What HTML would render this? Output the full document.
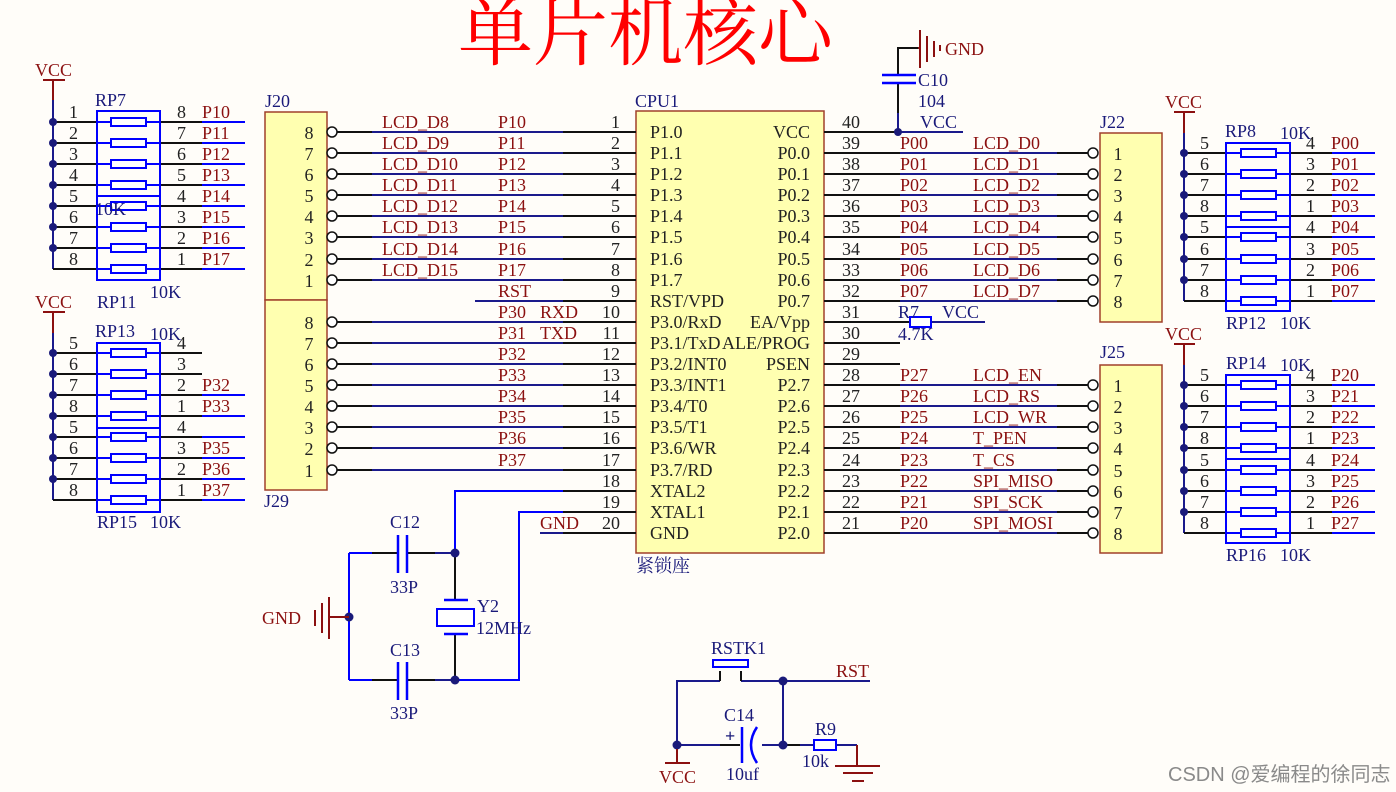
<!DOCTYPE html>
<html><head><meta charset="utf-8"><style>
html,body{margin:0;padding:0;background:#fffdf9;}
svg{display:block;}
text{font-family:"Liberation Serif","Noto Serif CJK SC",serif;font-size:18px;}
.r{fill:#8b1010}.b{fill:#1a1a7a}.k{fill:#222}
.bw{stroke:#0000ff;stroke-width:2;fill:none}
.nw{stroke:#1a1a8c;stroke-width:2;fill:none}
.kw{stroke:#111;stroke-width:2;fill:none}
.brw{stroke:#8b1010;stroke-width:2;fill:none}
.box{fill:#ffffb0;stroke:#a0402a;stroke-width:1.5}
.pin{fill:#fff;stroke:#111;stroke-width:1.5}
.rs{fill:#fff;stroke:#0000ff;stroke-width:2}
</style></head><body>
<svg width="1396" height="792" viewBox="0 0 1396 792" xmlns="http://www.w3.org/2000/svg">
<rect width="1396" height="792" fill="#fffdf9"/>
<text x="458" y="59" style="font-family:'Noto Serif CJK SC',serif;font-size:75px;fill:#ff0000">单片机核心</text>

<!-- CPU -->
<text x="635" y="107" class="b">CPU1</text>
<rect x="636" y="111" width="188" height="442" class="box"/>
<text x="636" y="572" class="b">紧锁座</text>
<g class="k">
<text x="650" y="138">P1.0</text><text x="650" y="159">P1.1</text><text x="650" y="180">P1.2</text><text x="650" y="201">P1.3</text>
<text x="650" y="222">P1.4</text><text x="650" y="243">P1.5</text><text x="650" y="265">P1.6</text><text x="650" y="286">P1.7</text>
<text x="650" y="307">RST/VPD</text><text x="650" y="328">P3.0/RxD</text><text x="650" y="349">P3.1/TxD</text><text x="650" y="370">P3.2/INT0</text>
<text x="650" y="391">P3.3/INT1</text><text x="650" y="412">P3.4/T0</text><text x="650" y="433">P3.5/T1</text><text x="650" y="454">P3.6/WR</text>
<text x="650" y="476">P3.7/RD</text><text x="650" y="497">XTAL2</text><text x="650" y="518">XTAL1</text><text x="650" y="539">GND</text>
</g>
<g class="k" text-anchor="end">
<text x="810" y="138">VCC</text><text x="810" y="159">P0.0</text><text x="810" y="180">P0.1</text><text x="810" y="201">P0.2</text>
<text x="810" y="222">P0.3</text><text x="810" y="243">P0.4</text><text x="810" y="265">P0.5</text><text x="810" y="286">P0.6</text>
<text x="810" y="307">P0.7</text><text x="810" y="328">EA/Vpp</text><text x="810" y="349">ALE/PROG</text><text x="810" y="370">PSEN</text>
<text x="810" y="391">P2.7</text><text x="810" y="412">P2.6</text><text x="810" y="433">P2.5</text><text x="810" y="454">P2.4</text>
<text x="810" y="476">P2.3</text><text x="810" y="497">P2.2</text><text x="810" y="518">P2.1</text><text x="810" y="539">P2.0</text>
</g>
<g class="k" text-anchor="end">
<text x="620" y="128">1</text><text x="620" y="149">2</text><text x="620" y="170">3</text><text x="620" y="191">4</text>
<text x="620" y="212">5</text><text x="620" y="233">6</text><text x="620" y="255">7</text><text x="620" y="276">8</text>
<text x="620" y="297">9</text><text x="620" y="318">10</text><text x="620" y="339">11</text><text x="620" y="360">12</text>
<text x="620" y="381">13</text><text x="620" y="402">14</text><text x="620" y="423">15</text><text x="620" y="444">16</text>
<text x="620" y="466">17</text><text x="620" y="487">18</text><text x="620" y="508">19</text><text x="620" y="529">20</text>
</g>
<g class="k">
<text x="842" y="128">40</text><text x="842" y="149">39</text><text x="842" y="170">38</text><text x="842" y="191">37</text>
<text x="842" y="212">36</text><text x="842" y="233">35</text><text x="842" y="255">34</text><text x="842" y="276">33</text>
<text x="842" y="297">32</text><text x="842" y="318">31</text><text x="842" y="339">30</text><text x="842" y="360">29</text>
<text x="842" y="381">28</text><text x="842" y="402">27</text><text x="842" y="423">26</text><text x="842" y="444">25</text>
<text x="842" y="466">24</text><text x="842" y="487">23</text><text x="842" y="508">22</text><text x="842" y="529">21</text>
</g>

<g>
<path class="kw" d="M337 132H372M563 132H636M337 153H372M563 153H636M337 174H372M563 174H636M337 195H372M563 195H636M337 216H372M563 216H636M337 237H372M563 237H636M337 259H372M563 259H636M337 280H372M563 280H636M563 301H636
M337 322H372M563 322H636M337 343H372M563 343H636M337 364H372M563 364H636M337 385H372M563 385H636M337 406H372M563 406H636M337 427H372M563 427H636M337 448H372M563 448H636M337 470H372M563 470H636M563 491H636M563 512H636M563 533H636"/>
<path class="nw" d="M372 132H563M372 153H563M372 174H563M372 195H563M372 216H563M372 237H563M372 259H563M372 280H563M475 301H563M372 322H563M372 343H563M372 364H563M372 385H563M372 406H563M372 427H563M372 448H563M372 470H563M540 533H563"/>
</g>
<g class="r">
<text x="382" y="128">LCD_D8</text><text x="382" y="149">LCD_D9</text><text x="382" y="170">LCD_D10</text><text x="382" y="191">LCD_D11</text>
<text x="382" y="212">LCD_D12</text><text x="382" y="233">LCD_D13</text><text x="382" y="255">LCD_D14</text><text x="382" y="276">LCD_D15</text>
<text x="498" y="128">P10</text><text x="498" y="149">P11</text><text x="498" y="170">P12</text><text x="498" y="191">P13</text>
<text x="498" y="212">P14</text><text x="498" y="233">P15</text><text x="498" y="255">P16</text><text x="498" y="276">P17</text>
<text x="498" y="297">RST</text><text x="498" y="318">P30</text><text x="540" y="318">RXD</text><text x="498" y="339">P31</text><text x="540" y="339">TXD</text>
<text x="498" y="360">P32</text><text x="498" y="381">P33</text><text x="498" y="402">P34</text><text x="498" y="423">P35</text>
<text x="498" y="444">P36</text><text x="498" y="466">P37</text><text x="540" y="529">GND</text>
</g>
<text x="265" y="107" class="b">J20</text>
<rect x="265" y="112" width="62" height="188" class="box"/>
<rect x="265" y="300" width="62" height="190" class="box"/>
<text x="264" y="507" class="b">J29</text>
<g class="k" text-anchor="middle">
<text x="309" y="139">8</text><text x="309" y="160">7</text><text x="309" y="181">6</text><text x="309" y="202">5</text>
<text x="309" y="223">4</text><text x="309" y="244">3</text><text x="309" y="266">2</text><text x="309" y="287">1</text>
<text x="309" y="329">8</text><text x="309" y="350">7</text><text x="309" y="371">6</text><text x="309" y="392">5</text>
<text x="309" y="413">4</text><text x="309" y="434">3</text><text x="309" y="455">2</text><text x="309" y="477">1</text>
</g>
<g class="pin">
<circle cx="332" cy="132" r="5"/><circle cx="332" cy="153" r="5"/><circle cx="332" cy="174" r="5"/><circle cx="332" cy="195" r="5"/>
<circle cx="332" cy="216" r="5"/><circle cx="332" cy="237" r="5"/><circle cx="332" cy="259" r="5"/><circle cx="332" cy="280" r="5"/>
<circle cx="332" cy="322" r="5"/><circle cx="332" cy="343" r="5"/><circle cx="332" cy="364" r="5"/><circle cx="332" cy="385" r="5"/>
<circle cx="332" cy="406" r="5"/><circle cx="332" cy="427" r="5"/><circle cx="332" cy="448" r="5"/><circle cx="332" cy="470" r="5"/>
</g>

<path class="kw" d="M824 132H898M824 153H900M1057 153H1088M824 174H900M1057 174H1088M824 195H900M1057 195H1088M824 216H900M1057 216H1088M824 237H900M1057 237H1088M824 259H900M1057 259H1088M824 280H900M1057 280H1088M824 301H900M1057 301H1088
M824 322H910M824 343H900M824 364H900
M824 385H900M1057 385H1088M824 406H900M1057 406H1088M824 427H900M1057 427H1088M824 448H900M1057 448H1088M824 470H900M1057 470H1088M824 491H900M1057 491H1088M824 512H900M1057 512H1088M824 533H900M1057 533H1088"/>
<path class="nw" d="M898 132H963M900 153H1057M900 174H1057M900 195H1057M900 216H1057M900 237H1057M900 259H1057M900 280H1057M900 301H1057M931 322H985
M900 385H1057M900 406H1057M900 427H1057M900 448H1057M900 470H1057M900 491H1057M900 512H1057M900 533H1057"/>
<rect x="910" y="317" width="21" height="10" fill="#fff" stroke="#0000ff" stroke-width="2"/>
<g class="r">
<text x="900" y="149">P00</text><text x="900" y="170">P01</text><text x="900" y="191">P02</text><text x="900" y="212">P03</text>
<text x="900" y="233">P04</text><text x="900" y="255">P05</text><text x="900" y="276">P06</text><text x="900" y="297">P07</text>
<text x="973" y="149">LCD_D0</text><text x="973" y="170">LCD_D1</text><text x="973" y="191">LCD_D2</text><text x="973" y="212">LCD_D3</text>
<text x="973" y="233">LCD_D4</text><text x="973" y="255">LCD_D5</text><text x="973" y="276">LCD_D6</text><text x="973" y="297">LCD_D7</text>
<text x="900" y="381">P27</text><text x="900" y="402">P26</text><text x="900" y="423">P25</text><text x="900" y="444">P24</text>
<text x="900" y="466">P23</text><text x="900" y="487">P22</text><text x="900" y="508">P21</text><text x="900" y="529">P20</text>
<text x="973" y="381">LCD_EN</text><text x="973" y="402">LCD_RS</text><text x="973" y="423">LCD_WR</text><text x="973" y="444">T_PEN</text>
<text x="973" y="466">T_CS</text><text x="973" y="487">SPI_MISO</text><text x="973" y="508">SPI_SCK</text><text x="973" y="529">SPI_MOSI</text>
</g>
<g class="b"><text x="920" y="128">VCC</text><text x="898" y="318">R7</text><text x="942" y="318">VCC</text><text x="898" y="340">4.7K</text></g>
<path class="nw" d="M898 132V113"/>
<path class="kw" d="M898 113V83M898 75V48H918"/>
<path d="M882 75H916M882 83H916" stroke="#0000ff" stroke-width="2.5"/>
<circle cx="898" cy="132" r="4" fill="#1a1a7a"/>
<path class="brw" d="M918 48H920M920 30V68M927 36V62M934 41V57M940 45V51" stroke-width="2.5"/>
<text x="945" y="55" class="r">GND</text>
<text x="918" y="86" class="b">C10</text><text x="918" y="107" class="b">104</text>

<text x="1100" y="128" class="b">J22</text>
<rect x="1100" y="133" width="62" height="189" class="box"/>
<text x="1100" y="358" class="b">J25</text>
<rect x="1100" y="365" width="62" height="188" class="box"/>
<g class="k" text-anchor="middle">
<text x="1118" y="160">1</text><text x="1118" y="181">2</text><text x="1118" y="202">3</text><text x="1118" y="223">4</text>
<text x="1118" y="244">5</text><text x="1118" y="266">6</text><text x="1118" y="287">7</text><text x="1118" y="308">8</text>
<text x="1118" y="392">1</text><text x="1118" y="413">2</text><text x="1118" y="434">3</text><text x="1118" y="455">4</text>
<text x="1118" y="477">5</text><text x="1118" y="498">6</text><text x="1118" y="519">7</text><text x="1118" y="540">8</text>
</g>
<g class="pin">
<circle cx="1093" cy="153" r="5"/><circle cx="1093" cy="174" r="5"/><circle cx="1093" cy="195" r="5"/><circle cx="1093" cy="216" r="5"/>
<circle cx="1093" cy="237" r="5"/><circle cx="1093" cy="259" r="5"/><circle cx="1093" cy="280" r="5"/><circle cx="1093" cy="301" r="5"/>
<circle cx="1093" cy="385" r="5"/><circle cx="1093" cy="406" r="5"/><circle cx="1093" cy="427" r="5"/><circle cx="1093" cy="448" r="5"/>
<circle cx="1093" cy="470" r="5"/><circle cx="1093" cy="491" r="5"/><circle cx="1093" cy="512" r="5"/><circle cx="1093" cy="533" r="5"/>
</g>

<text x="35" y="76" class="r">VCC</text>
<path class="brw" d="M43 80H65M53 80V100"/>
<path class="nw" d="M53 100V269"/>
<path class="kw" d="M53 122H97M160 122H202M53 143H97M160 143H202M53 164H97M160 164H202M53 185H97M160 185H202M53 206H97M160 206H202M53 227H97M160 227H202M53 248H97M160 248H202M53 269H97M160 269H202"/>
<path class="bw" d="M202 122H245M202 143H245M202 164H245M202 185H245M202 206H245M202 227H245M202 248H245M202 269H245M97 122H160M97 143H160M97 164H160M97 185H160M97 206H160M97 227H160M97 248H160M97 269H160"/>
<rect x="97" y="111" width="63" height="85" class="bw"/><rect x="97" y="196" width="63" height="84" class="bw"/>
<g class="rs"><rect x="111" y="118" width="35" height="8"/><rect x="111" y="139" width="35" height="8"/><rect x="111" y="160" width="35" height="8"/><rect x="111" y="181" width="35" height="8"/><rect x="111" y="202" width="35" height="8"/><rect x="111" y="223" width="35" height="8"/><rect x="111" y="244" width="35" height="8"/><rect x="111" y="265" width="35" height="8"/></g>
<g fill="#1a1a7a"><circle cx="53" cy="122" r="4"/><circle cx="53" cy="143" r="4"/><circle cx="53" cy="164" r="4"/><circle cx="53" cy="185" r="4"/><circle cx="53" cy="206" r="4"/><circle cx="53" cy="227" r="4"/><circle cx="53" cy="248" r="4"/></g>
<g class="k"><text x="69" y="118">1</text><text x="69" y="139">2</text><text x="69" y="160">3</text><text x="69" y="181">4</text><text x="69" y="202">5</text><text x="69" y="223">6</text><text x="69" y="244">7</text><text x="69" y="265">8</text>
<text x="177" y="118">8</text><text x="177" y="139">7</text><text x="177" y="160">6</text><text x="177" y="181">5</text><text x="177" y="202">4</text><text x="177" y="223">3</text><text x="177" y="244">2</text><text x="177" y="265">1</text></g>
<g class="r"><text x="202" y="118">P10</text><text x="202" y="139">P11</text><text x="202" y="160">P12</text><text x="202" y="181">P13</text><text x="202" y="202">P14</text><text x="202" y="223">P15</text><text x="202" y="244">P16</text><text x="202" y="265">P17</text></g>
<g class="b"><text x="95" y="106">RP7</text><text x="95" y="215">10K</text><text x="150" y="298">10K</text><text x="97" y="308">RP11</text></g>

<text x="35" y="308" class="r">VCC</text>
<path class="brw" d="M43 312H65M53 312V333"/>
<path class="nw" d="M53 333V500"/>
<path class="kw" d="M53 353H97M160 353H202M53 374H97M160 374H202M53 395H97M160 395H202M53 416H97M160 416H202M53 437H97M160 437H202M53 458H97M160 458H202M53 479H97M160 479H202M53 500H97M160 500H202"/>
<path class="bw" d="M202 395H245M202 416H245M202 437H245M202 458H245M202 479H245M202 500H245M97 353H160M97 374H160M97 395H160M97 416H160M97 437H160M97 458H160M97 479H160M97 500H160"/>
<rect x="97" y="343" width="63" height="85" class="bw"/><rect x="97" y="428" width="63" height="84" class="bw"/>
<g class="rs"><rect x="111" y="349" width="35" height="8"/><rect x="111" y="370" width="35" height="8"/><rect x="111" y="391" width="35" height="8"/><rect x="111" y="412" width="35" height="8"/><rect x="111" y="433" width="35" height="8"/><rect x="111" y="454" width="35" height="8"/><rect x="111" y="475" width="35" height="8"/><rect x="111" y="496" width="35" height="8"/></g>
<g fill="#1a1a7a"><circle cx="53" cy="353" r="4"/><circle cx="53" cy="374" r="4"/><circle cx="53" cy="395" r="4"/><circle cx="53" cy="416" r="4"/><circle cx="53" cy="437" r="4"/><circle cx="53" cy="458" r="4"/><circle cx="53" cy="479" r="4"/></g>
<g class="k"><text x="69" y="349">5</text><text x="69" y="370">6</text><text x="69" y="391">7</text><text x="69" y="412">8</text><text x="69" y="433">5</text><text x="69" y="454">6</text><text x="69" y="475">7</text><text x="69" y="496">8</text>
<text x="177" y="349">4</text><text x="177" y="370">3</text><text x="177" y="391">2</text><text x="177" y="412">1</text><text x="177" y="433">4</text><text x="177" y="454">3</text><text x="177" y="475">2</text><text x="177" y="496">1</text></g>
<g class="r"><text x="202" y="391">P32</text><text x="202" y="412">P33</text><text x="202" y="454">P35</text><text x="202" y="475">P36</text><text x="202" y="496">P37</text></g>
<g class="b"><text x="95" y="337">RP13</text><text x="150" y="340">10K</text><text x="97" y="528">RP15</text><text x="150" y="528">10K</text></g>

<text x="1165" y="108" class="r">VCC</text>
<path class="brw" d="M1174 112H1195M1184 112V133"/>
<path class="nw" d="M1184 133V301"/>
<path class="kw" d="M1184 153H1226M1290 153H1332M1184 174H1226M1290 174H1332M1184 195H1226M1290 195H1332M1184 216H1226M1290 216H1332M1184 237H1226M1290 237H1332M1184 259H1226M1290 259H1332M1184 280H1226M1290 280H1332M1184 301H1226M1290 301H1332"/>
<path class="bw" d="M1332 153H1375M1332 174H1375M1332 195H1375M1332 216H1375M1332 237H1375M1332 259H1375M1332 280H1375M1332 301H1375M1226 153H1290M1226 174H1290M1226 195H1290M1226 216H1290M1226 237H1290M1226 259H1290M1226 280H1290M1226 301H1290"/>
<rect x="1226" y="143" width="64" height="84" class="bw"/><rect x="1226" y="227" width="64" height="84" class="bw"/>
<g class="rs"><rect x="1241" y="149" width="35" height="8"/><rect x="1241" y="170" width="35" height="8"/><rect x="1241" y="191" width="35" height="8"/><rect x="1241" y="212" width="35" height="8"/><rect x="1241" y="233" width="35" height="8"/><rect x="1241" y="255" width="35" height="8"/><rect x="1241" y="276" width="35" height="8"/><rect x="1241" y="297" width="35" height="8"/></g>
<g fill="#1a1a7a"><circle cx="1184" cy="153" r="4"/><circle cx="1184" cy="174" r="4"/><circle cx="1184" cy="195" r="4"/><circle cx="1184" cy="216" r="4"/><circle cx="1184" cy="237" r="4"/><circle cx="1184" cy="259" r="4"/><circle cx="1184" cy="280" r="4"/></g>
<g class="k"><text x="1200" y="149">5</text><text x="1200" y="170">6</text><text x="1200" y="191">7</text><text x="1200" y="212">8</text><text x="1200" y="233">5</text><text x="1200" y="255">6</text><text x="1200" y="276">7</text><text x="1200" y="297">8</text>
<text x="1306" y="149">4</text><text x="1306" y="170">3</text><text x="1306" y="191">2</text><text x="1306" y="212">1</text><text x="1306" y="233">4</text><text x="1306" y="255">3</text><text x="1306" y="276">2</text><text x="1306" y="297">1</text></g>
<g class="r"><text x="1331" y="149">P00</text><text x="1331" y="170">P01</text><text x="1331" y="191">P02</text><text x="1331" y="212">P03</text><text x="1331" y="233">P04</text><text x="1331" y="255">P05</text><text x="1331" y="276">P06</text><text x="1331" y="297">P07</text></g>
<g class="b"><text x="1225" y="137">RP8</text><text x="1280" y="139">10K</text><text x="1226" y="329">RP12</text><text x="1280" y="329">10K</text></g>

<text x="1165" y="340" class="r">VCC</text>
<path class="brw" d="M1174 344H1195M1184 344V365"/>
<path class="nw" d="M1184 365V533"/>
<path class="kw" d="M1184 385H1226M1290 385H1332M1184 406H1226M1290 406H1332M1184 427H1226M1290 427H1332M1184 448H1226M1290 448H1332M1184 470H1226M1290 470H1332M1184 491H1226M1290 491H1332M1184 512H1226M1290 512H1332M1184 533H1226M1290 533H1332"/>
<path class="bw" d="M1332 385H1375M1332 406H1375M1332 427H1375M1332 448H1375M1332 470H1375M1332 491H1375M1332 512H1375M1332 533H1375M1226 385H1290M1226 406H1290M1226 427H1290M1226 448H1290M1226 470H1290M1226 491H1290M1226 512H1290M1226 533H1290"/>
<rect x="1226" y="375" width="64" height="84" class="bw"/><rect x="1226" y="459" width="64" height="84" class="bw"/>
<g class="rs"><rect x="1241" y="381" width="35" height="8"/><rect x="1241" y="402" width="35" height="8"/><rect x="1241" y="423" width="35" height="8"/><rect x="1241" y="444" width="35" height="8"/><rect x="1241" y="466" width="35" height="8"/><rect x="1241" y="487" width="35" height="8"/><rect x="1241" y="508" width="35" height="8"/><rect x="1241" y="529" width="35" height="8"/></g>
<g fill="#1a1a7a"><circle cx="1184" cy="385" r="4"/><circle cx="1184" cy="406" r="4"/><circle cx="1184" cy="427" r="4"/><circle cx="1184" cy="448" r="4"/><circle cx="1184" cy="470" r="4"/><circle cx="1184" cy="491" r="4"/><circle cx="1184" cy="512" r="4"/></g>
<g class="k"><text x="1200" y="381">5</text><text x="1200" y="402">6</text><text x="1200" y="423">7</text><text x="1200" y="444">8</text><text x="1200" y="466">5</text><text x="1200" y="487">6</text><text x="1200" y="508">7</text><text x="1200" y="529">8</text>
<text x="1306" y="381">4</text><text x="1306" y="402">3</text><text x="1306" y="423">2</text><text x="1306" y="444">1</text><text x="1306" y="466">4</text><text x="1306" y="487">3</text><text x="1306" y="508">2</text><text x="1306" y="529">1</text></g>
<g class="r"><text x="1331" y="381">P20</text><text x="1331" y="402">P21</text><text x="1331" y="423">P22</text><text x="1331" y="444">P23</text><text x="1331" y="466">P24</text><text x="1331" y="487">P25</text><text x="1331" y="508">P26</text><text x="1331" y="529">P27</text></g>
<g class="b"><text x="1226" y="369">RP14</text><text x="1280" y="371">10K</text><text x="1226" y="561">RP16</text><text x="1280" y="561">10K</text></g>

<path class="bw" d="M563 491H455V553M563 512H519V680H455M349 553V680M349 553H372M349 680H372"/>
<path class="kw" d="M372 553H398M407 553H435M372 680H398M407 680H435M455 553V600M455 634V680"/>
<path class="nw" d="M435 553H455M435 680H455"/>
<path d="M398 535V573M407 535V573M398 662V700M407 662V700" stroke="#0000ff" stroke-width="2.5"/>
<path d="M444 600H468M444 634H468" stroke="#0000ff" stroke-width="2.5"/>
<rect x="437" y="609" width="37" height="17" class="rs"/>
<g fill="#1a1a7a"><circle cx="455" cy="553" r="4.5"/><circle cx="455" cy="680" r="4.5"/><circle cx="349" cy="617" r="4.5"/></g>
<path class="brw" d="M330 617H349" stroke-width="2.5"/>
<path class="brw" d="M329 597V639M322 603V633M315 610V626" stroke-width="2.5"/>
<text x="262" y="624" class="r">GND</text>
<g class="b"><text x="390" y="528">C12</text><text x="390" y="593">33P</text><text x="390" y="656">C13</text><text x="390" y="719">33P</text><text x="477" y="612">Y2</text><text x="476" y="634">12MHz</text></g>

<path class="nw" d="M720 681H677V745H720M741 681H870M783 681V745M762 745H800M800 745H814M836 745H857"/>
<path class="kw" d="M720 681V671M741 681V671M720 745H740M783 745H800"/>
<rect x="713" y="660" width="35" height="7" fill="none" stroke="#0000ff" stroke-width="2"/>
<path d="M742 727V763" stroke="#0000ff" stroke-width="2.5"/>
<path d="M757 727Q745 745 757 763" stroke="#0000ff" stroke-width="2.5" fill="none"/>
<rect x="814" y="740" width="22" height="10" class="rs"/>
<g fill="#1a1a7a"><circle cx="783" cy="681" r="4.5"/><circle cx="783" cy="745" r="4.5"/><circle cx="677" cy="745" r="4.5"/></g>
<path class="brw" d="M857 745V766M835 766H880M843 773H873M852 781H864M677 749V762M665 763H690"/>
<g class="b"><text x="711" y="654">RSTK1</text><text x="724" y="721">C14</text><text x="726" y="780">10uf</text><text x="815" y="735">R9</text><text x="802" y="767">10k</text><text x="725" y="742" style="font-weight:bold">+</text></g>
<text x="836" y="677" class="r">RST</text>
<text x="659" y="783" class="r">VCC</text>

<text x="1168" y="781" style="font-family:'Liberation Sans','Noto Sans CJK SC',sans-serif;font-size:20px;fill:#8a8a8a">CSDN @爱编程的徐同志</text>
</svg>
</body></html>
